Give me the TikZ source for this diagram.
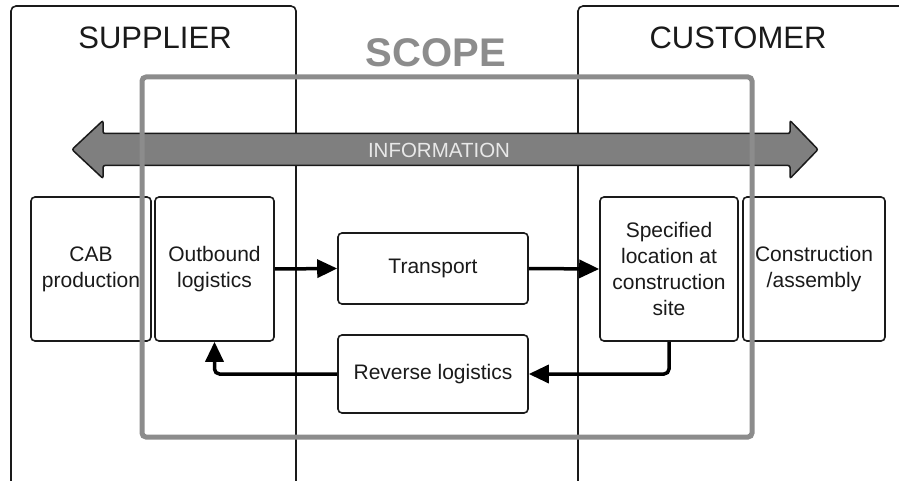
\documentclass[tikz,border=0pt]{standalone}
\usepackage{fontspec}
\setmainfont{Liberation Sans}
\usetikzlibrary{arrows.meta}
\definecolor{scopegray}{HTML}{8C8C8C}
\definecolor{infogray}{HTML}{7F7F7F}
\definecolor{infotext}{HTML}{E8E8E8}
\definecolor{ink}{HTML}{1A1A1A}
\tikzset{
  column/.style={draw=ink, line width=1.6pt, rounded corners=5pt},
  title/.style={font=\fontsize{31}{31}\selectfont, text=ink},
  stage/.style={draw=ink, line width=1.6pt, rounded corners=4pt, fill=white,
    align=center, text=ink, font=\fontsize{21}{26}\selectfont, inner sep=0pt},
  flow/.style={draw=black, line width=3.5pt,
    -{Triangle[length=20pt,width=18pt]}, rounded corners=5pt},
}
\begin{document}
\begin{tikzpicture}[x=1pt, y=-1pt]
\useasboundingbox (0,0) rectangle (899,481);
\clip (0,0) rectangle (899,481);
\fill[white] (0,0) rectangle (899,481);

% organisation columns, open at the bottom / right
\draw[column] (11,6) rectangle (296,500);
\draw[column] (578,6) rectangle (920,500);
\node[title] (supplier) at (155,38) {SUPPLIER};
\node[title] (customer) at (738,38) {CUSTOMER};

% scope heading
\node[font=\bfseries\fontsize{40}{40}\selectfont, text=scopegray] (scope) at (436,53) {SCOPE};

% two-way information arrow
\draw[draw=ink, fill=infogray, line width=1.5pt, rounded corners=2pt]
  (72,149.5) -- (103,120.5) -- (103,133.5) -- (790,133.5) -- (790,120.5)
  -- (818,149.5) -- (790,178.5) -- (790,165.5) -- (103,165.5) -- (103,178.5) -- cycle;
\node[text=infotext, font=\fontsize{20.5}{20.5}\selectfont] (info) at (439,150) {INFORMATION};

% process stages
\node[stage, minimum width=120pt, minimum height=144pt] (cab) at (91,269) {CAB\\production};
\node[stage, minimum width=119pt, minimum height=144pt] (out) at (214.5,269) {Outbound\\logistics};
\node[stage, minimum width=190pt, minimum height=71pt] (trans) at (433,268.5) {Transport};
\node[stage, minimum width=190pt, minimum height=78pt] (rev) at (433,374) {Reverse logistics};
\node[stage, minimum width=138pt, minimum height=144pt] (spec) at (669,269) {Specified\\location at\\construction\\site};
\node[stage, minimum width=142pt, minimum height=144pt] (cons) at (814,269) {Construction\\/assembly};

% material flows
\draw[flow] (out.east) -- (trans.west);
\draw[flow] (trans.east) -- (spec.west);
\draw[flow] (spec.south) |- (rev.east);
\draw[flow] (rev.west) -| (out.south);

% scope frame on top
\draw[draw=scopegray, line width=5pt, rounded corners=4pt] (142,77) rectangle (752,437);
\end{tikzpicture}
\end{document}
